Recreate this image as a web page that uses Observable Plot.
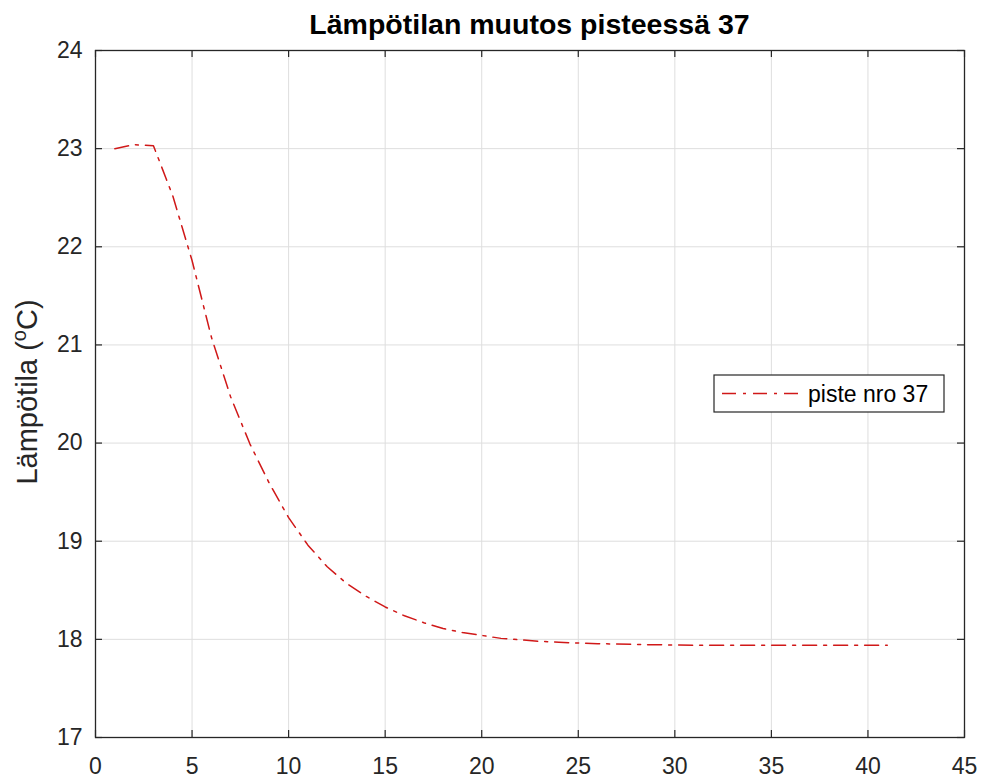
<!DOCTYPE html>
<html>
<head>
<meta charset="utf-8">
<script src="https://cdn.jsdelivr.net/npm/d3@7"></script>
<script src="https://cdn.jsdelivr.net/npm/@observablehq/plot@0.6"></script>
<style>
  html, body { margin: 0; padding: 0; background: #fff; }
  #chart { width: 983px; height: 780px; }
</style>
</head>
<body>
<div id="chart"></div>
<script>
// Time step and temperature at point 37
const steps = [1, 2, 3, 4, 5, 6, 7, 8, 9, 10, 11, 12, 13, 14, 15, 16, 17, 18, 19, 20,
  21, 22, 23, 24, 25, 26, 27, 28, 29, 30, 31, 32, 33, 34, 35, 36, 37, 38, 39, 40, 41];
const temps = [23.00, 23.04, 23.03, 22.52, 21.86, 21.08, 20.47, 19.99, 19.59, 19.24,
  18.96, 18.74, 18.57, 18.44, 18.33, 18.24, 18.17, 18.11, 18.07, 18.04,
  18.01, 17.995, 17.98, 17.97, 17.962, 17.956, 17.952, 17.948, 17.945, 17.943,
  17.94, 17.94, 17.94, 17.94, 17.94, 17.94, 17.94, 17.94, 17.94, 17.94, 17.94];

const xTicks = [0, 5, 10, 15, 20, 25, 30, 35, 40, 45];
const yTicks = [17, 18, 19, 20, 21, 22, 23, 24];

const titleText = "Lämpötilan muutos pisteessä 37";
const yLabelText = "Lämpötila (";
const yLabelSup = "o";
const yLabelEnd = "C)";
const seriesName = "piste nro 37";

const data = steps.map((s, i) => ({step: s, temp: temps[i]}));

const W = 983, H = 780;
const mL = 95, mR = 19, mT = 50, mB = 43;
const innerW = W - mL - mR, innerH = H - mT - mB;
const tickLen = 7;
const axisColor = "#262626";
const gridColor = "#dedede";
const lineColor = "#d01818";
const dash = "14,7,3,7";
const font = "'Liberation Sans', Arial, Helvetica, sans-serif";

const chart = Plot.plot({
  width: W,
  height: H,
  marginLeft: mL,
  marginRight: mR,
  marginTop: mT,
  marginBottom: mB,
  style: {fontFamily: font, fontSize: "23px", color: axisColor, background: "#fff", overflow: "visible"},
  x: {domain: [0, 45]},
  y: {domain: [17, 24]},
  marks: [
    Plot.gridX(xTicks, {stroke: gridColor, strokeOpacity: 1, strokeWidth: 1}),
    Plot.gridY(yTicks, {stroke: gridColor, strokeOpacity: 1, strokeWidth: 1}),
    Plot.line(data, {x: "step", y: "temp", stroke: lineColor, strokeWidth: 1.5, strokeDasharray: dash}),
    // inward ticks on all four sides of the box
    Plot.ruleX(xTicks, {insetTop: innerH - tickLen, stroke: axisColor, strokeWidth: 1.2}),
    Plot.ruleX(xTicks, {insetBottom: innerH - tickLen, stroke: axisColor, strokeWidth: 1.2}),
    Plot.ruleY(yTicks, {insetRight: innerW - tickLen, stroke: axisColor, strokeWidth: 1.2}),
    Plot.ruleY(yTicks, {insetLeft: innerW - tickLen, stroke: axisColor, strokeWidth: 1.2}),
    Plot.frame({stroke: axisColor, strokeWidth: 1.3}),
    Plot.axisX(xTicks, {tickSize: 0, tickPadding: 20, label: null, fill: axisColor, fontSize: 23, tickFormat: d => String(d)}),
    Plot.axisY(yTicks, {tickSize: 0, tickPadding: 13, label: null, fill: axisColor, fontSize: 23, tickFormat: d => String(d)})
  ]
});

document.getElementById("chart").appendChild(chart);

const svg = d3.select(chart);

// Title
svg.append("text")
  .attr("x", mL + innerW / 2)
  .attr("y", 34)
  .attr("text-anchor", "middle")
  .attr("font-family", font)
  .attr("font-size", 28.5)
  .attr("font-weight", "bold")
  .attr("fill", "#000")
  .text(titleText);

// Y axis label with superscript "o"
const yl = svg.append("text")
  .attr("transform", `translate(37, 392) rotate(-90)`)
  .attr("text-anchor", "middle")
  .attr("font-family", font)
  .attr("font-size", 29)
  .attr("fill", axisColor);
yl.append("tspan").text(yLabelText);
yl.append("tspan").attr("baseline-shift", "super").attr("font-size", 20).text(yLabelSup);
yl.append("tspan").text(yLabelEnd);

// Legend box
const lg = svg.append("g").attr("transform", "translate(714, 375)");
lg.append("rect")
  .attr("width", 230).attr("height", 37)
  .attr("fill", "#fff").attr("stroke", axisColor).attr("stroke-width", 1.2);
lg.append("line")
  .attr("x1", 8).attr("x2", 86).attr("y1", 18.5).attr("y2", 18.5)
  .attr("stroke", lineColor).attr("stroke-width", 1.5).attr("stroke-dasharray", dash);
lg.append("text")
  .attr("x", 94).attr("y", 27)
  .attr("text-anchor", "start")
  .attr("font-family", font).attr("font-size", 23).attr("fill", "#000")
  .text(seriesName);
</script>
</body>
</html>
